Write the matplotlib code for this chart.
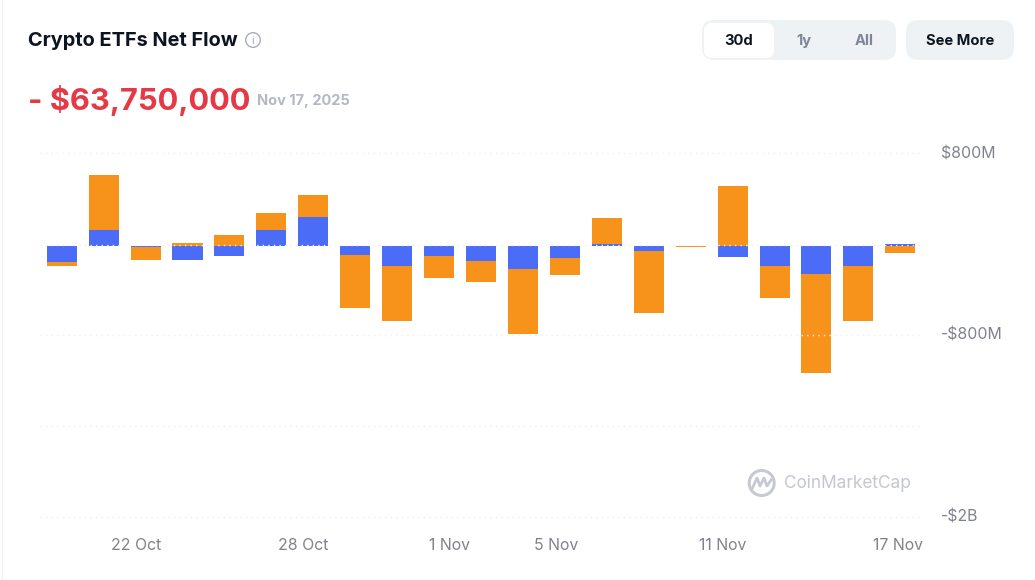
import matplotlib
matplotlib.use("Agg")
import matplotlib.pyplot as plt
from matplotlib.patches import FancyBboxPatch, Arc, Rectangle

plt.rcParams['font.family'] = ['Inter', 'DejaVu Sans']

dates = ['20 Oct', '21 Oct', '22 Oct', '23 Oct', '24 Oct', '27 Oct', '28 Oct', '29 Oct', '30 Oct', '31 Oct',
         '3 Nov', '4 Nov', '5 Nov', '6 Nov', '7 Nov', '10 Nov', '11 Nov', '12 Nov', '13 Nov', '14 Nov', '17 Nov']
btc_flow = [-141, 141, -12, -123, -88, 141, 252, -76, -176, -88, -132, -205, -108, 18, -44, 0, -97, -176, -249, -176, 15]
eth_flow = [-35, 486, -111, 23, 100, 147, 199, -472, -481, -196, -185, -571, -144, 226, -548, -12, 527, -281, -867, -481, -64]
grid_values = [818, 9, -780, -1580, -2380]
y_tick_labels = {818: '$800M', -780: '-$800M', -2380: '-$2B'}
x_tick_pos = [1.77, 5.77, 9.26, 11.78, 15.77, 19.94]
x_tick_labels = ['22 Oct', '28 Oct', '1 Nov', '5 Nov', '11 Nov', '17 Nov']

W, H = 1035, 580
fig = plt.figure(figsize=(W / 100, H / 100), dpi=100, facecolor='white')

ui = fig.add_axes([0, 0, 1, 1], zorder=3)
ui.set_xlim(0, W)
ui.set_ylim(H, 0)
ui.axis('off')
ui.patch.set_alpha(0)

ax = fig.add_axes([40 / W, 1 - 516.7 / H, 883 / W, 363.7 / H], zorder=2)
ax.patch.set_alpha(0)
ax.set_xlim(-0.5175, 20.54)
ax.set_ylim(grid_values[-1], grid_values[0])
for s in ax.spines.values():
    s.set_visible(False)

BLUE, ORANGE = '#4a6cf7', '#f7931a'
for i, (b, e) in enumerate(zip(btc_flow, eth_flow)):
    ax.bar(i, b, width=0.7155, color=BLUE, zorder=2)
    same_sign = (b >= 0) == (e >= 0)
    ax.bar(i, e, width=0.7155, bottom=b if same_sign else 0, color=ORANGE, zorder=2)

ax.set_yticks(grid_values)
ax.set_yticklabels([])
ax.tick_params(axis='y', length=0)
ax.grid(axis='y', color='#eceef2', linestyle=(0, (1, 3)), linewidth=1, zorder=3, clip_on=False)
ax.set_axisbelow(False)
ax.set_xticks(x_tick_pos)
ax.set_xticklabels(x_tick_labels, fontsize=11.4, color='#80838d')
ax.tick_params(axis='x', length=0, pad=15)

for v, lab in y_tick_labels.items():
    ax.annotate(lab, xy=(1, v), xycoords=('axes fraction', 'data'), xytext=(18, -0.5),
                textcoords='offset pixels', ha='left', va='center', fontsize=11.4, color='#80838d')

# page furniture
ui.add_patch(Rectangle((2, 0), 1.2, H, color='#eff1f4', lw=0))
ui.text(28, 40.5, 'Crypto ETFs Net Flow', fontsize=14.35, fontweight='bold', color='#0d1421', va='center')
ui.add_patch(plt.Circle((253, 40), 7.3, fill=False, ec='#a8adb9', lw=1))
ui.text(253, 40.5, 'i', fontsize=8, color='#a8adb9', ha='center', va='center')
ui.text(28, 100, '- $63,750,000', fontsize=22.2, fontweight='bold', color='#e63946', va='center')
ui.text(257, 100.5, 'Nov 17, 2025', fontsize=10.5, fontweight='bold', color='#b4b8c4', va='center')

ui.add_patch(FancyBboxPatch((702 + 8, 20 + 8), 194 - 16, 40 - 16, boxstyle='round,pad=8,rounding_size=12',
                            fc='#eff2f5', ec='none'))
ui.add_patch(FancyBboxPatch((704 + 7, 23 + 7), 70 - 14, 35 - 14, boxstyle='round,pad=7,rounding_size=8',
                            fc='white', ec='none'))
ui.add_patch(FancyBboxPatch((906 + 8, 20 + 8), 108 - 16, 40 - 16, boxstyle='round,pad=8,rounding_size=12',
                            fc='#eff2f5', ec='none'))
ui.text(739, 40.8, '30d', fontsize=10.6, fontweight='bold', color='#0d1421', ha='center', va='center')
ui.text(804, 40.8, '1y', fontsize=10.6, fontweight='bold', color='#7f8698', ha='center', va='center')
ui.text(864, 40.8, 'All', fontsize=10.6, fontweight='bold', color='#7f8698', ha='center', va='center')
ui.text(960, 40.8, 'See More', fontsize=10.6, fontweight='bold', color='#0d1421', ha='center', va='center')

# watermark
ui.add_patch(Arc((761.7, 483), 25, 25, theta1=-20, theta2=340, color='#c6c9d1', lw=2.2))
ui.plot([752, 757, 760, 764, 767, 771], [489, 478, 486, 478, 486, 480], color='#c6c9d1', lw=2)
ui.text(784, 484, 'CoinMarketCap', fontsize=12.4, fontweight='normal', color='#c4c7cf', va='center')

fig.savefig('out.png', dpi=100, facecolor='white')
